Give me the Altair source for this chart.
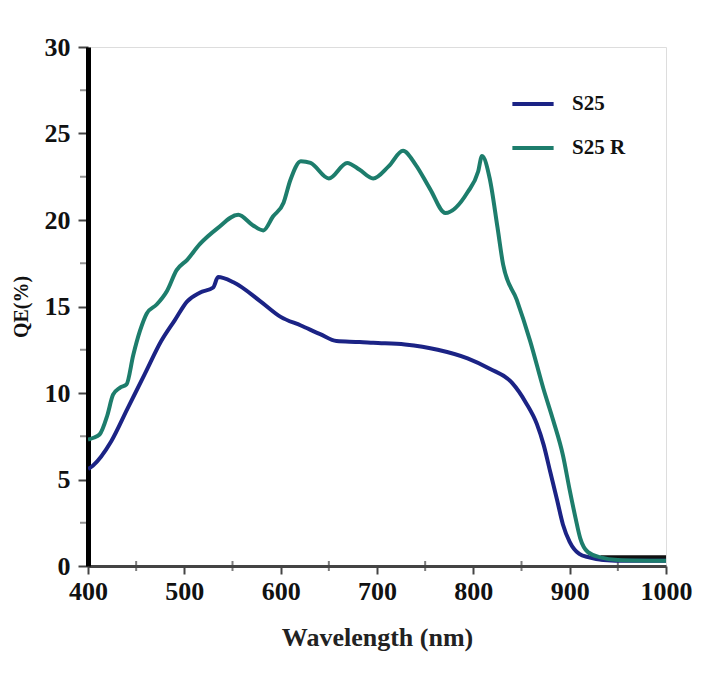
import altair as alt
import pandas as pd

# S25 (navy)
s25_wl = [400, 405, 424, 441, 459, 476, 490, 503, 516, 530, 535, 551, 579, 600, 621, 641, 658, 682,
          696, 729, 763, 794, 817, 840, 855, 866, 873, 880, 887, 893, 900, 910, 920, 935, 960, 1000]
s25_qe = [5.6, 5.8, 7.2, 9.1, 11.1, 13.0, 14.2, 15.3, 15.8, 16.1, 16.7, 16.4, 15.3, 14.4, 13.9, 13.4, 13.0, 12.95,
          12.9, 12.8, 12.5, 12.0, 11.4, 10.6, 9.4, 8.2, 7.0, 5.4, 3.8, 2.4, 1.4, 0.7, 0.5, 0.35, 0.3, 0.3]

# S25 R (teal)
s25r_wl = [400, 405, 412, 420, 426, 433, 440, 447, 454, 461, 471, 482, 492, 503, 516, 534, 556, 571, 582, 592,
           603, 610, 621, 631, 650, 669, 682, 696, 712, 727, 740, 755, 771, 794, 805, 809, 817, 825, 831, 845,
           859, 873, 883, 893, 900, 906, 911, 919, 932, 950, 1000]
s25r_qe = [7.3, 7.4, 7.6, 8.7, 9.9, 10.3, 10.5, 12.2, 13.6, 14.6, 15.1, 15.9, 17.1, 17.7, 18.6, 19.5, 20.3, 19.7, 19.4, 20.2,
           21.0, 22.3, 23.4, 23.3, 22.4, 23.3, 22.9, 22.4, 23.1, 24.0, 23.2, 21.8, 20.4, 21.6, 22.8, 23.7, 22.4, 19.6, 17.4, 15.4,
           13.0, 10.2, 8.4, 6.4, 4.4, 2.8, 1.6, 0.8, 0.5, 0.35, 0.3]

# black baseline trace at the far right
base_wl = [932, 1000]
base_qe = [0.45, 0.45]

series_names = ["S25", "S25 R"]
series_colors = ["#1b2385", "#1d7d6c"]

x_major = [400, 500, 600, 700, 800, 900, 1000]
x_minor = [450, 550, 650, 750, 850, 950]
y_major = [0, 5, 10, 15, 20, 25, 30]
y_minor = [2.5, 7.5, 12.5, 17.5, 22.5, 27.5]

df = pd.concat([
    pd.DataFrame({"wl": s25_wl, "qe": s25_qe, "series": "S25"}),
    pd.DataFrame({"wl": s25r_wl, "qe": s25r_qe, "series": "S25 R"}),
])
df_base = pd.DataFrame({"wl": base_wl, "qe": base_qe})

x_scale = alt.Scale(domain=[400, 1000], nice=False)
y_scale = alt.Scale(domain=[0, 30], nice=False)

serif = "Liberation Serif"

lines = alt.Chart(df).mark_line(strokeWidth=4, interpolate="monotone", clip=True).encode(
    x=alt.X("wl:Q", scale=x_scale,
            axis=alt.Axis(title="Wavelength (nm)", values=x_major, format="d", labelFlush=False,
                          grid=False, domainColor="#444444", domainWidth=3,
                          tickColor="#444444", tickWidth=2, tickSize=8,
                          labelFont=serif, labelFontWeight="bold", labelFontSize=26, labelColor="#111111",
                          labelPadding=4,
                          titleFont=serif, titleFontWeight="bold", titleFontSize=26, titleColor="#222222",
                          titlePadding=20)),
    y=alt.Y("qe:Q", scale=y_scale,
            axis=alt.Axis(title="QE(%)", values=y_major, format="d", grid=False,
                          domainColor="#000000", domainWidth=5,
                          tickColor="#444444", tickWidth=2, tickSize=10,
                          labelFont=serif, labelFontWeight="bold", labelFontSize=26, labelColor="#111111",
                          labelPadding=8,
                          titleFont=serif, titleFontWeight="bold", titleFontSize=20, titleColor="#111111",
                          titlePadding=13)),
    color=alt.Color("series:N", scale=alt.Scale(domain=series_names, range=series_colors),
                    legend=alt.Legend(title=None, orient="none", legendX=422, legendY=34,
                                      symbolType="stroke", symbolSize=1700, symbolStrokeWidth=4,
                                      labelFont=serif, labelFontWeight="bold", labelFontSize=21,
                                      labelColor="#111111", rowPadding=11, labelOffset=16)),
)

minor_x = alt.Chart(pd.DataFrame({"wl": x_minor})).mark_tick(
    orient="vertical", color="#444444", thickness=2, size=10).encode(
    x=alt.X("wl:Q", scale=x_scale), y=alt.value(519))

minor_y = alt.Chart(pd.DataFrame({"qe": y_minor})).mark_tick(
    orient="horizontal", color="#666666", thickness=2, size=6).encode(
    y=alt.Y("qe:Q", scale=y_scale), x=alt.value(-5))

base = alt.Chart(df_base).mark_line(strokeWidth=6, color="#111111").encode(
    x=alt.X("wl:Q", scale=x_scale), y=alt.Y("qe:Q", scale=y_scale))

chart = alt.layer(minor_x, minor_y, base, lines).properties(
    width=578, height=519,
    autosize=alt.AutoSizeParams(type="none"),
    padding={"left": 80, "top": 39, "right": 30, "bottom": 110},
).configure_view(stroke=None).configure(background="white")

chart.save("out.html", embed_options={"renderer": "svg", "actions": False})
